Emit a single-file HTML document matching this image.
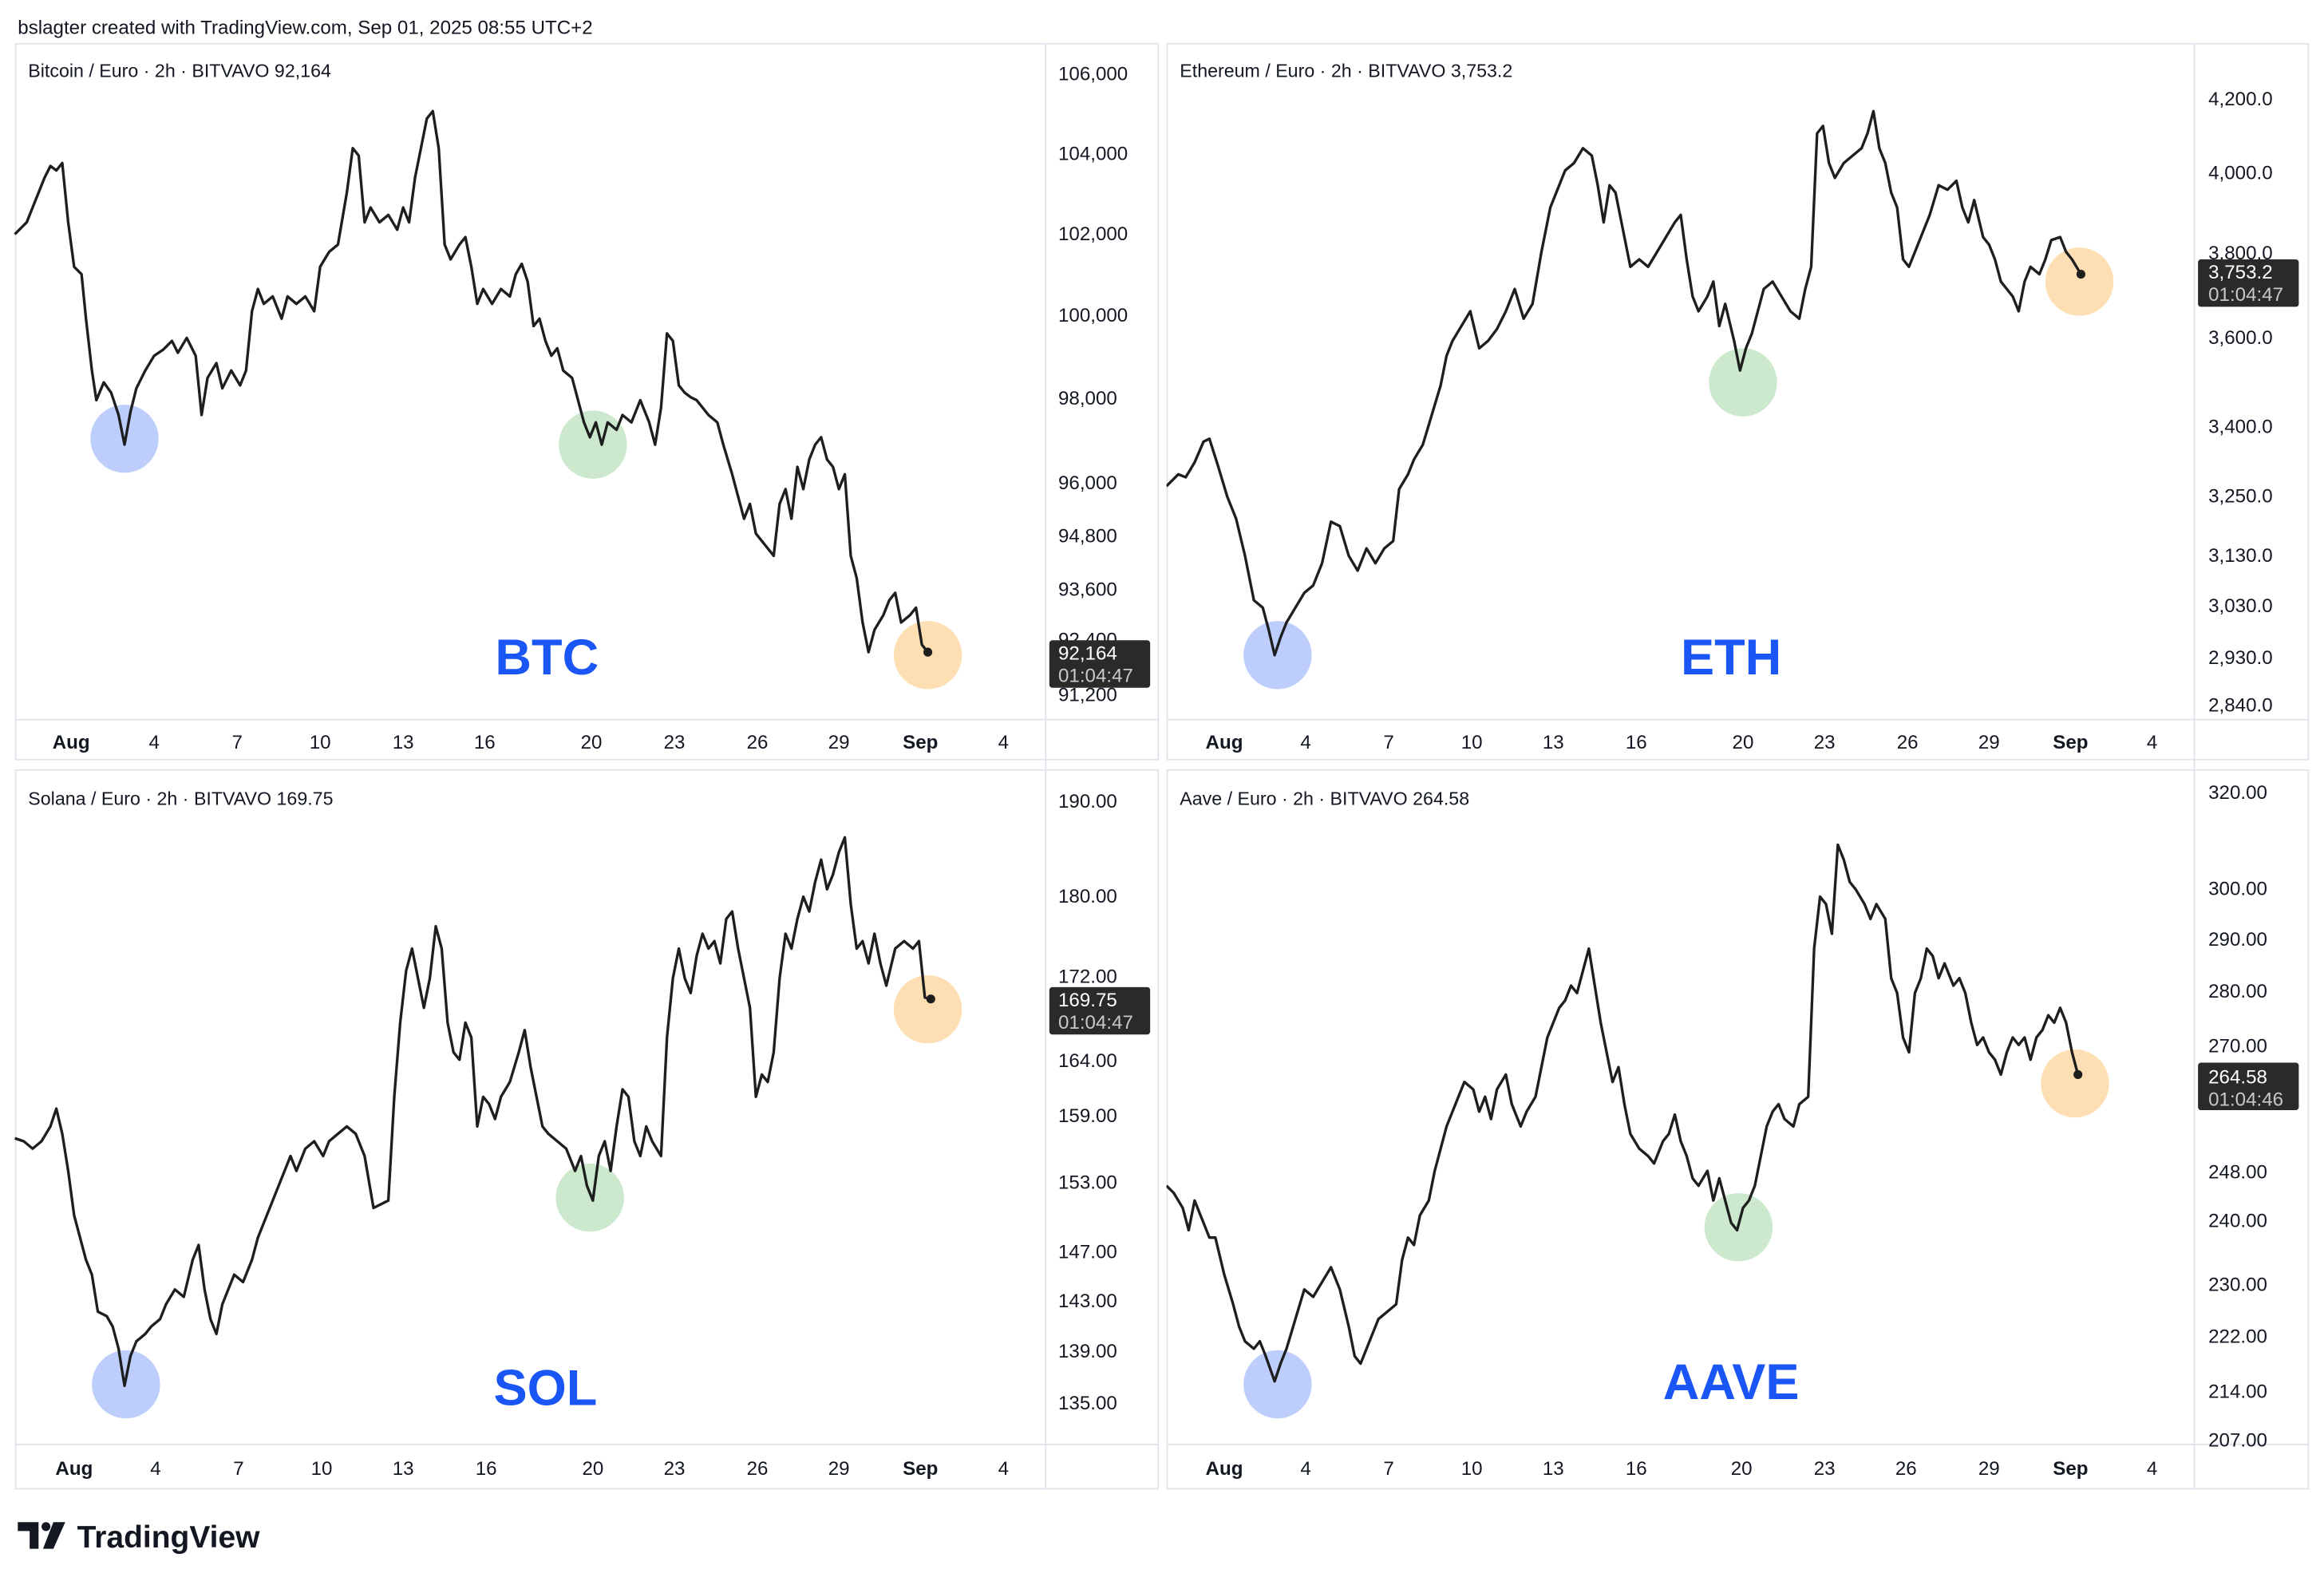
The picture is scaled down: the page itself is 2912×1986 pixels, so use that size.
<!DOCTYPE html>
<html><head><meta charset="utf-8"><style>
html,body{margin:0;padding:0;background:#fff;}
svg{display:block;}
text{font-family:"Liberation Sans",sans-serif;}
</style></head><body>
<svg width="2912" height="1986" viewBox="0 0 1568 1069.4" xmlns="http://www.w3.org/2000/svg">
<rect width="1568" height="1070" fill="#fff"/>
<text x="12" y="23" font-size="13" fill="#131722">bslagter created with TradingView.com, Sep 01, 2025 08:55 UTC+2</text>
<g fill="none" stroke="#e0e3eb" stroke-width="1">
<rect x="10.5" y="29.5" width="771" height="483"/>
<rect x="787.5" y="29.5" width="770" height="483"/>
<rect x="10.5" y="519.5" width="771" height="485"/>
<rect x="787.5" y="519.5" width="770" height="485"/>
<line x1="705.5" y1="29" x2="705.5" y2="1005"/>
<line x1="1480.5" y1="29" x2="1480.5" y2="1005"/>
<line x1="10" y1="485.5" x2="782" y2="485.5"/>
<line x1="787" y1="485.5" x2="1558" y2="485.5"/>
<line x1="10" y1="974.5" x2="782" y2="974.5"/>
<line x1="787" y1="974.5" x2="1558" y2="974.5"/>
</g>
<g font-size="12.5" fill="#131722">
<text x="19" y="52">Bitcoin / Euro · 2h · BITVAVO  92,164</text>
<text x="796" y="52">Ethereum / Euro · 2h · BITVAVO  3,753.2</text>
<text x="19" y="543">Solana / Euro · 2h · BITVAVO  169.75</text>
<text x="796" y="543">Aave / Euro · 2h · BITVAVO  264.58</text>
</g>
<!-- circles -->
<g opacity="0.85">
<circle cx="84" cy="296" r="23" fill="#b3c5fb"/><circle cx="400" cy="300" r="23" fill="#c3e5c5"/><circle cx="626" cy="442" r="23" fill="#fed9a6"/>
<circle cx="862" cy="442" r="23" fill="#b3c5fb"/><circle cx="1176" cy="258" r="23" fill="#c3e5c5"/><circle cx="1403" cy="190" r="23" fill="#fed9a6"/>
<circle cx="85" cy="934" r="23" fill="#b3c5fb"/><circle cx="398" cy="808" r="23" fill="#c3e5c5"/><circle cx="626" cy="681" r="23" fill="#fed9a6"/>
<circle cx="862" cy="934" r="23" fill="#b3c5fb"/><circle cx="1173" cy="828" r="23" fill="#c3e5c5"/><circle cx="1400" cy="731" r="23" fill="#fed9a6"/>
</g>
<g fill="none" stroke="#1e1e1e" stroke-width="1.8" stroke-linejoin="round">
<polyline points="10,158 18,150 22,140 26,130 30,120 34,112 38,115 42,110 46,150 50,180 55,185 58,215 62,250 65,270 70,258 75,265 80,280 84,300 88,278 92,262 98,250 104,240 110,236 116,230 120,238 126,228 132,240 136,280 140,255 146,245 150,262 156,250 162,260 166,250 170,210 174,195 178,205 184,200 190,215 194,200 200,205 206,200 212,210 216,180 222,170 228,165 234,130 238,100 242,105 246,150 250,140 256,150 262,145 268,155 272,140 276,150 280,120 284,100 288,80 292,75 296,100 300,165 304,175 310,165 314,160 318,180 322,205 326,195 332,205 338,195 344,200 348,185 352,178 356,190 360,220 364,215 368,230 372,240 376,235 380,250 386,255 390,270 394,285 398,295 402,285 406,300 410,285 416,290 420,280 426,285 432,270 438,285 442,300 446,275 450,225 454,230 458,260 462,265 466,268 470,270 474,275 478,280 484,285 488,300 494,320 498,335 502,350 506,340 510,360 514,365 518,370 522,375 526,340 530,330 534,350 538,315 542,330 546,310 550,300 554,295 558,310 562,315 566,330 570,320 574,375 578,390 582,420 586,440 590,425 596,415 600,405 604,400 608,420 614,415 618,410 622,435 626,440"/>
<polyline points="787,328 795,320 800,322 806,312 812,298 816,296 822,315 828,335 834,350 840,375 846,405 852,410 856,425 860,442 864,430 868,420 874,410 880,400 886,395 892,380 898,352 904,355 910,375 916,385 922,370 928,380 934,370 940,365 944,330 950,320 954,310 960,300 966,280 972,260 976,240 980,230 986,220 992,210 998,235 1004,230 1010,222 1016,210 1022,195 1028,215 1034,205 1040,170 1046,140 1052,125 1056,115 1062,110 1068,100 1074,105 1078,125 1082,150 1086,125 1090,130 1096,160 1100,180 1106,175 1112,180 1118,170 1124,160 1130,150 1134,145 1138,175 1142,200 1146,210 1152,200 1156,190 1160,220 1164,205 1170,230 1174,250 1178,235 1182,225 1186,210 1190,195 1196,190 1202,200 1208,210 1214,215 1218,195 1222,180 1226,90 1230,85 1234,110 1238,120 1244,110 1250,105 1256,100 1260,90 1264,75 1268,100 1272,110 1276,130 1280,140 1284,175 1288,180 1292,170 1296,160 1302,145 1308,125 1314,128 1320,122 1324,140 1328,150 1332,135 1338,160 1342,165 1346,175 1350,190 1354,195 1358,200 1362,210 1366,190 1370,180 1376,185 1380,175 1384,162 1390,160 1394,170 1398,175 1404,185"/>
<polyline points="10,768 16,770 22,775 28,770 34,760 38,748 42,765 46,790 50,820 54,835 58,850 62,860 66,885 72,888 76,895 80,910 84,935 88,915 92,905 98,900 102,895 108,890 112,880 118,870 124,875 130,850 134,840 138,870 142,890 146,900 150,880 154,870 158,860 164,865 170,850 174,835 178,825 184,810 190,795 196,780 200,790 206,775 212,770 218,780 222,770 228,765 234,760 240,765 246,780 252,815 258,812 262,810 266,740 270,690 274,655 278,640 282,660 286,680 290,660 294,625 298,640 302,690 306,710 310,715 314,690 318,700 322,760 326,740 330,745 334,755 338,740 344,730 350,710 354,695 358,720 362,740 366,760 370,765 376,770 382,775 388,790 392,780 396,800 400,810 404,780 408,770 412,790 416,760 420,735 424,740 428,770 432,780 436,760 440,770 446,780 450,700 454,660 458,640 462,660 466,670 470,645 474,630 478,640 482,635 486,650 490,620 494,615 498,640 502,660 506,680 510,740 514,725 518,730 522,710 526,660 530,630 534,640 538,620 542,605 546,615 550,595 554,580 558,600 562,590 566,575 570,565 574,610 578,640 582,635 586,650 590,630 594,650 598,665 604,640 610,635 616,640 620,635 624,673 628,674"/>
<polyline points="787,800 792,805 798,815 802,830 806,810 810,820 816,835 820,835 826,860 832,880 836,895 840,905 846,910 850,905 854,915 860,932 864,920 868,910 874,890 880,870 886,875 892,865 898,855 904,870 910,895 914,915 918,920 922,910 926,900 930,890 936,885 942,880 946,850 950,835 954,840 958,820 964,810 968,790 972,775 976,760 982,745 988,730 994,735 998,750 1002,740 1006,755 1010,735 1016,725 1020,745 1026,760 1030,750 1036,740 1040,720 1044,700 1048,690 1052,680 1056,675 1060,665 1064,670 1068,655 1072,640 1076,665 1080,690 1084,710 1088,730 1092,720 1096,745 1100,765 1106,775 1112,780 1116,785 1122,770 1126,765 1130,752 1134,770 1138,780 1142,795 1146,800 1152,790 1156,810 1160,795 1164,810 1168,825 1172,830 1176,815 1180,810 1184,800 1188,780 1192,760 1196,750 1200,745 1204,755 1210,760 1214,745 1220,740 1224,640 1228,605 1232,610 1236,630 1240,570 1244,580 1248,595 1252,600 1258,610 1262,620 1266,610 1272,620 1276,660 1280,670 1284,700 1288,710 1292,670 1296,660 1300,640 1304,645 1308,660 1312,650 1318,665 1322,660 1326,670 1330,690 1334,705 1338,700 1342,710 1346,715 1350,725 1354,710 1358,700 1362,705 1366,700 1370,715 1374,700 1378,695 1382,685 1386,690 1390,680 1394,690 1398,710 1402,725"/>
</g>
<g fill="#1e1e1e"><circle cx="626" cy="440" r="3"/><circle cx="1404" cy="185" r="3"/><circle cx="628" cy="674" r="3"/><circle cx="1402" cy="725" r="3"/></g>
<g font-size="34" font-weight="bold" fill="#1a55f5" text-anchor="middle">
<text x="369" y="455">BTC</text><text x="1168" y="455">ETH</text><text x="368" y="948">SOL</text><text x="1168" y="944">AAVE</text>
</g>
<g font-size="13" fill="#131722">
<text x="714" y="54">106,000</text><text x="714" y="108">104,000</text><text x="714" y="162">102,000</text><text x="714" y="217">100,000</text><text x="714" y="273">98,000</text><text x="714" y="330">96,000</text><text x="714" y="366">94,800</text><text x="714" y="402">93,600</text><text x="714" y="436">92,400</text><text x="714" y="473">91,200</text>
<text x="1490" y="71">4,200.0</text><text x="1490" y="121">4,000.0</text><text x="1490" y="175">3,800.0</text><text x="1490" y="232">3,600.0</text><text x="1490" y="292">3,400.0</text><text x="1490" y="339">3,250.0</text><text x="1490" y="379">3,130.0</text><text x="1490" y="413">3,030.0</text><text x="1490" y="448">2,930.0</text><text x="1490" y="480">2,840.0</text>
<text x="714" y="545">190.00</text><text x="714" y="609">180.00</text><text x="714" y="663">172.00</text><text x="714" y="720">164.00</text><text x="714" y="757">159.00</text><text x="714" y="802">153.00</text><text x="714" y="849">147.00</text><text x="714" y="882">143.00</text><text x="714" y="916">139.00</text><text x="714" y="951">135.00</text>
<text x="1490" y="539">320.00</text><text x="1490" y="604">300.00</text><text x="1490" y="638">290.00</text><text x="1490" y="673">280.00</text><text x="1490" y="710">270.00</text><text x="1490" y="795">248.00</text><text x="1490" y="828">240.00</text><text x="1490" y="871">230.00</text><text x="1490" y="906">222.00</text><text x="1490" y="943">214.00</text><text x="1490" y="976">207.00</text>
</g>
<rect x="782" y="0" width="5" height="1070" fill="#fff"/>
<g fill="#2a2a2a"><rect x="708" y="432" width="68" height="32" rx="2"/><rect x="1483" y="175" width="68" height="32" rx="2"/><rect x="708" y="666" width="68" height="32" rx="2"/><rect x="1483" y="717" width="68" height="32" rx="2"/></g>
<g font-size="13" fill="#fff"><text x="714" y="445">92,164</text><text x="1490" y="188">3,753.2</text><text x="714" y="679">169.75</text><text x="1490" y="731">264.58</text></g>
<g font-size="13" fill="#c8c8c8"><text x="714" y="460">01:04:47</text><text x="1490" y="203">01:04:47</text><text x="714" y="694">01:04:47</text><text x="1490" y="746">01:04:46</text></g>
<g font-size="13" fill="#131722" text-anchor="middle">
<text x="48" y="505" font-weight="bold">Aug</text><text x="104" y="505">4</text><text x="160" y="505">7</text><text x="216" y="505">10</text><text x="272" y="505">13</text><text x="327" y="505">16</text><text x="399" y="505">20</text><text x="455" y="505">23</text><text x="511" y="505">26</text><text x="566" y="505">29</text><text x="621" y="505" font-weight="bold">Sep</text><text x="677" y="505">4</text>
<text x="826" y="505" font-weight="bold">Aug</text><text x="881" y="505">4</text><text x="937" y="505">7</text><text x="993" y="505">10</text><text x="1048" y="505">13</text><text x="1104" y="505">16</text><text x="1176" y="505">20</text><text x="1231" y="505">23</text><text x="1287" y="505">26</text><text x="1342" y="505">29</text><text x="1397" y="505" font-weight="bold">Sep</text><text x="1452" y="505">4</text>
<text x="50" y="995" font-weight="bold">Aug</text><text x="105" y="995">4</text><text x="161" y="995">7</text><text x="217" y="995">10</text><text x="272" y="995">13</text><text x="328" y="995">16</text><text x="400" y="995">20</text><text x="455" y="995">23</text><text x="511" y="995">26</text><text x="566" y="995">29</text><text x="621" y="995" font-weight="bold">Sep</text><text x="677" y="995">4</text>
<text x="826" y="995" font-weight="bold">Aug</text><text x="881" y="995">4</text><text x="937" y="995">7</text><text x="993" y="995">10</text><text x="1048" y="995">13</text><text x="1104" y="995">16</text><text x="1175" y="995">20</text><text x="1231" y="995">23</text><text x="1286" y="995">26</text><text x="1342" y="995">29</text><text x="1397" y="995" font-weight="bold">Sep</text><text x="1452" y="995">4</text>
</g>
<g fill="#131722">
<path d="M12 1027 h14 v18 h-6 v-12 h-8z"/><circle cx="31" cy="1030" r="3"/><path d="M36 1027 h8 l-8 18 h-7z"/>
<text x="52" y="1044" font-size="21" font-weight="bold">TradingView</text>
</g>
</svg>
</body></html>
